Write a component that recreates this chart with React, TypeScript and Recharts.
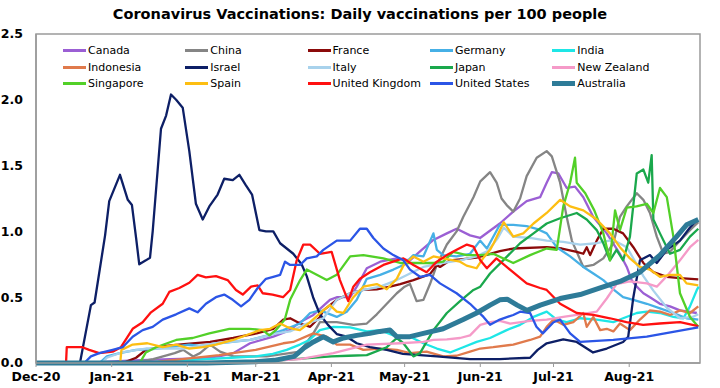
import React from 'react';
import { LineChart, Line, XAxis, YAxis, ReferenceArea, Legend } from 'recharts';

type Pt = [number, number];

// x = days since 1 Dec 2020, y = daily vaccinations per 100 people
const tickDays = [0, 31, 62, 90, 121, 151, 182, 212, 243];
const tickLabels = ['Dec-20', 'Jan-21', 'Feb-21', 'Mar-21', 'Apr-21', 'May-21', 'Jun-21', 'Jul-21', 'Aug-21'];
const yTicks = [0, 0.5, 1, 1.5, 2, 2.5];

const canadaData: Pt[] = [[0,0],[20,0],[40,0.02],[55,0.03],[67,0.035],[75,0.05],[80.8,0.075],[87.7,0.15],[97.2,0.2],[104,0.25],[108.1,0.31],[113.6,0.365],[120.4,0.48],[123.2,0.5],[128.7,0.5],[131.4,0.58],[135.5,0.72],[141,0.77],[147.8,0.795],[153.2,0.78],[158,0.86],[162.8,0.935],[168.3,0.985],[172.3,1.02],[177.8,0.97],[181.9,0.95],[190,1.06],[195.5,1.15],[201,1.23],[206.5,1.26],[209.2,1.37],[211.3,1.45],[214,1.44],[217.4,1.33],[220.8,1.34],[224.2,1.26],[228.3,1.11],[233.8,0.985],[239.2,0.83],[242,0.73],[244,0.63],[246.1,0.58],[248.8,0.53],[251.5,0.5],[255.6,0.45],[259.7,0.43],[263.8,0.4],[270.7,0.38]];
const chinaData: Pt[] = [[0,0],[40,0],[48,0.03],[56.8,0.075],[60.3,0.1],[64.4,0.05],[67.2,0.075],[71.3,0.14],[75.4,0.086],[80.8,0.05],[94.5,0.05],[108.1,0.086],[113.6,0.225],[116.3,0.31],[123.2,0.31],[130,0.29],[135.5,0.3],[139.6,0.37],[143.7,0.45],[147.8,0.53],[151,0.58],[153.2,0.6],[155.9,0.47],[158.7,0.48],[161.4,0.6],[164.2,0.745],[168.3,0.9],[172.3,1.0],[175,1.11],[179.2,1.26],[182,1.38],[186,1.45],[188.7,1.37],[190.7,1.25],[192.8,1.2],[195.5,1.15],[198.3,1.25],[201,1.42],[205.1,1.56],[209.2,1.61],[211.3,1.57],[214.7,1.37],[217.4,1.11],[219.5,0.93],[224.2,0.73],[228.3,0.745],[232.4,0.795],[236.5,0.91],[239.2,1.11],[242,1.19],[246.1,1.29],[248.8,1.24],[251.5,1.14],[254.3,0.96],[257,0.83],[259.7,0.845],[263.8,0.93],[267.9,1.01],[271.3,1.07]];
const franceData: Pt[] = [[0,0],[35,0],[37,0.01],[41,0.04],[45,0.1],[53.2,0.13],[61.7,0.145],[71.3,0.16],[80.8,0.19],[90.4,0.225],[97.2,0.26],[101.3,0.33],[104.1,0.34],[108.2,0.3],[112.3,0.275],[116.3,0.35],[117.7,0.4],[123.2,0.48],[128.7,0.53],[134.1,0.555],[139.6,0.56],[145,0.58],[149.2,0.6],[154.6,0.63],[161.4,0.675],[164.2,0.745],[165.5,0.73],[169.6,0.78],[175,0.79],[180.5,0.8],[186,0.83],[190,0.85],[195.5,0.87],[209.2,0.88],[215.4,0.87],[221.5,0.845],[224.2,0.83],[225.6,0.88],[227,0.82],[229.7,0.93],[232.4,1.02],[236.5,1.02],[240.5,0.985],[244.7,0.88],[248.8,0.76],[252.9,0.69],[258.4,0.655],[263.8,0.645],[271.3,0.635]];
const germanyData: Pt[] = [[0,0],[26,0],[29,0.05],[34.3,0.075],[41,0.1],[47.8,0.105],[54.6,0.12],[62.8,0.14],[67.2,0.13],[75,0.15],[87.7,0.175],[95,0.21],[101.3,0.25],[108.1,0.3],[112.3,0.38],[116.3,0.4],[123.2,0.35],[127.3,0.39],[131.4,0.48],[135.5,0.64],[141,0.67],[146.4,0.71],[150.5,0.745],[154.6,0.82],[158.7,0.81],[162.8,0.985],[164.2,0.86],[166.8,0.82],[172.3,0.81],[177.8,0.83],[181.9,0.93],[184.7,0.87],[190,1.05],[195.5,1.05],[201,1.04],[205.1,1.02],[209.2,0.985],[213.3,0.88],[218.8,0.81],[224.2,0.73],[228.3,0.68],[232.4,0.63],[236.5,0.56],[240.5,0.5],[244.7,0.48],[250.2,0.45],[255.6,0.415],[261.1,0.38],[266.5,0.34],[271.3,0.33]];
const indiaData: Pt[] = [[0,0],[45,0],[50,0.01],[60,0.02],[70,0.03],[80,0.04],[90,0.05],[97,0.07],[102.7,0.1],[108.1,0.14],[112,0.175],[116.3,0.25],[121.8,0.275],[128.7,0.27],[135.5,0.24],[141,0.25],[146.4,0.21],[153.2,0.2],[158.7,0.15],[164.2,0.11],[169.6,0.08],[175,0.12],[180.5,0.16],[186,0.19],[192.8,0.25],[198.3,0.29],[203.8,0.35],[209.2,0.39],[213.3,0.33],[217.4,0.31],[222.9,0.34],[229.7,0.33],[236.5,0.31],[240.5,0.34],[246.1,0.38],[250.2,0.39],[255.6,0.38],[261.1,0.35],[265.2,0.34],[267.9,0.43],[270.7,0.555],[271.5,0.58]];
const indonesiaData: Pt[] = [[0,0],[43,0],[50,0.01],[60,0.03],[75,0.06],[90,0.1],[101.3,0.15],[105.4,0.16],[113.6,0.225],[119.1,0.2],[123.2,0.14],[128.7,0.14],[134.1,0.1],[141,0.11],[147.8,0.1],[153.2,0.075],[160,0.086],[166.8,0.05],[172.3,0.055],[177.8,0.086],[182,0.11],[187.3,0.12],[195.5,0.14],[202.4,0.175],[206.5,0.2],[209.2,0.275],[212,0.33],[216,0.29],[220.1,0.31],[224.2,0.38],[225.6,0.275],[228.3,0.35],[231.1,0.25],[233.8,0.26],[236.5,0.24],[239.2,0.3],[243.3,0.25],[247.4,0.33],[251.5,0.4],[255.6,0.39],[259.7,0.365],[263.8,0.4],[267.9,0.38],[271.3,0.43]];
const israelData: Pt[] = [[0,0],[18,0],[22.5,0.44],[24,0.46],[28.3,0.97],[30,1.23],[34.4,1.43],[37.6,1.24],[39.3,1.2],[41,0.95],[42.3,0.75],[45,0.78],[46.7,0.8],[47.8,1.0],[51.2,1.78],[53.3,1.88],[55.3,2.04],[57.4,2.0],[60.1,1.94],[62.8,1.61],[65.5,1.21],[68.3,1.09],[71,1.19],[74.4,1.28],[77.1,1.4],[80.6,1.39],[83.3,1.43],[86,1.35],[88.5,1.28],[91.5,1.01],[94.2,1.0],[97.2,1.0],[100,0.91],[105.4,0.83],[108.8,0.75],[110.9,0.66],[113.5,0.5],[116.3,0.37],[119.6,0.29],[123.2,0.22],[127.3,0.2],[131.4,0.15],[136.8,0.12],[143.7,0.1],[150.3,0.07],[157.3,0.06],[164.2,0.05],[177.8,0.03],[190,0.03],[202.4,0.04],[205.5,0.1],[209.2,0.15],[216,0.18],[221.5,0.16],[228.2,0.08],[233.8,0.11],[240.5,0.16],[242.6,0.2],[244.7,0.5],[247.4,0.78],[251.5,0.82],[254.3,0.76],[258.4,0.86],[263.8,0.93],[267.9,1.03],[271,1.09]];
const italyData: Pt[] = [[0,0],[27,0],[29,0.04],[35,0.08],[45,0.11],[60.3,0.11],[74,0.15],[87.7,0.175],[98.6,0.225],[104.1,0.24],[110.9,0.3],[117.7,0.34],[123.2,0.48],[128.7,0.53],[134.1,0.555],[141,0.58],[147.8,0.63],[153.2,0.68],[158.7,0.73],[166.8,0.76],[173.7,0.78],[180.5,0.81],[185,0.85],[189.2,0.95],[191.6,1.03],[195.5,0.96],[202.4,0.95],[209.2,0.93],[216,0.92],[222.9,0.9],[229.7,0.91],[236.5,0.935],[242,0.88],[246.1,0.75],[248.8,0.66],[252.9,0.55],[258.4,0.42],[263.8,0.34],[268.9,0.35],[271.3,0.37]];
const japanData: Pt[] = [[0,0],[76,0],[80,0.01],[90,0.015],[100,0.02],[110,0.035],[121,0.05],[128,0.055],[135.5,0.06],[143.7,0.12],[147.8,0.19],[150.5,0.15],[154.6,0.05],[157.3,0.075],[162.8,0.25],[168.3,0.38],[173.7,0.47],[179.2,0.555],[182,0.58],[186,0.68],[193,0.81],[198.3,0.91],[203.8,0.985],[209.2,1.06],[214.7,1.1],[221.5,1.14],[225.6,1.09],[229.7,1.01],[232.4,0.91],[235.1,0.78],[237.8,0.86],[240.5,0.78],[243.3,0.96],[246.1,1.44],[248.8,1.47],[250.8,1.37],[252.2,1.58],[252.9,1.09],[255.6,0.985],[259.7,0.83],[263.8,0.86],[267.9,0.96],[271.3,1.02]];
const newZealandData: Pt[] = [[0,0],[80,0],[85,0.01],[100,0.02],[108.1,0.03],[121.8,0.075],[135.5,0.14],[149.2,0.15],[158.7,0.16],[162.8,0.175],[168.3,0.18],[173.7,0.19],[177.8,0.21],[182,0.29],[186,0.31],[190,0.32],[194.2,0.3],[202.4,0.32],[209.2,0.33],[216,0.35],[222.9,0.37],[229.7,0.39],[233.8,0.49],[237.8,0.6],[243.3,0.62],[250.2,0.605],[254.3,0.58],[258.4,0.66],[263.8,0.78],[267.9,0.88],[271.3,0.935]];
const singaporeData: Pt[] = [[0,0],[42.5,0],[45,0.08],[49.2,0.12],[57.4,0.175],[64.2,0.19],[71,0.225],[79.2,0.26],[87.4,0.26],[92.9,0.25],[95.6,0.21],[98.3,0.25],[101.9,0.33],[104.1,0.48],[108.2,0.63],[110.9,0.71],[115,0.67],[119.1,0.63],[123.2,0.67],[128.7,0.81],[134.1,0.82],[142.3,0.795],[149.2,0.76],[157.3,0.76],[162.8,0.76],[166.8,0.77],[170.9,0.845],[176.4,0.82],[182,0.82],[187.3,0.83],[195.5,0.76],[202.4,0.82],[209.2,0.87],[213.3,0.86],[216,1.19],[218.8,1.37],[220.8,1.56],[221.5,1.37],[225,1.29],[228.7,1.16],[232.4,0.985],[235.1,0.78],[237.2,1.16],[239.2,1.01],[242,1.18],[246,1.19],[250.2,1.21],[252.9,1.14],[255.6,1.33],[258.4,1.26],[261.1,0.96],[263.8,0.53],[267.9,0.35],[271.3,0.275]];
const spainData: Pt[] = [[0,0],[34.5,0],[35,0.1],[39.6,0.14],[45.6,0.15],[51.9,0.12],[57.4,0.14],[62.8,0.11],[68.3,0.12],[73.7,0.14],[80.8,0.175],[91.8,0.25],[95.9,0.26],[100,0.3],[102.7,0.275],[105.4,0.26],[108.1,0.25],[111.6,0.3],[114.7,0.35],[117.7,0.4],[120.4,0.44],[123.2,0.39],[125.9,0.38],[130,0.5],[134.1,0.58],[139.6,0.6],[143.7,0.56],[147.8,0.64],[150.5,0.74],[154.6,0.81],[158.7,0.77],[162.8,0.81],[168.3,0.79],[173.7,0.77],[176.4,0.74],[180.5,0.72],[183.3,0.8],[186,0.86],[187.5,0.91],[191.6,1.07],[195.5,0.96],[199.6,0.985],[203.8,1.06],[209.2,1.14],[214.7,1.24],[218.8,1.19],[224.2,1.16],[229.7,1.09],[235.1,0.985],[239.2,0.88],[243.3,0.795],[247.4,0.73],[251.5,0.71],[255.6,0.655],[259.7,0.67],[263.8,0.67],[266.5,0.605],[271.3,0.59]];
const ukData: Pt[] = [[0,0],[12.3,0],[12.6,0.12],[19,0.12],[21.8,0.1],[25.9,0.075],[31.4,0.086],[34.8,0.12],[39.6,0.26],[43.7,0.31],[47.1,0.385],[51.9,0.45],[54.6,0.54],[58.7,0.57],[62.8,0.61],[66.2,0.67],[69.6,0.65],[73.7,0.66],[78.5,0.63],[81.9,0.555],[84.7,0.52],[88.1,0.58],[90.8,0.59],[92.9,0.53],[96.9,0.52],[101.2,0.5],[104.1,0.555],[106.8,0.78],[109.5,0.9],[112.3,0.9],[116.3,0.83],[121.1,0.845],[124.5,0.63],[127.9,0.47],[130,0.58],[132.7,0.64],[136.8,0.69],[142.3,0.745],[147.8,0.78],[150.5,0.795],[154.6,0.745],[160,0.69],[164.2,0.77],[168.3,0.82],[172.3,0.86],[176.5,0.9],[179.2,0.885],[182,0.78],[184.7,0.72],[188.6,0.795],[192.8,0.73],[201,0.605],[206.5,0.57],[209.2,0.555],[214.7,0.45],[221.5,0.38],[228.3,0.365],[235.1,0.34],[241.9,0.31],[248.7,0.29],[255.5,0.3],[263.8,0.31],[271.3,0.28]];
const usData: Pt[] = [[0,0],[19.8,0],[22.5,0.05],[25.9,0.075],[31.4,0.1],[35.5,0.12],[39.6,0.2],[43.7,0.25],[47.8,0.275],[51.9,0.33],[57.4,0.37],[62.8,0.415],[66.2,0.385],[69.6,0.45],[73.7,0.5],[77.1,0.52],[80.6,0.48],[84,0.43],[87.4,0.48],[90.8,0.57],[94.2,0.64],[97.2,0.655],[100,0.67],[102,0.77],[104.1,0.745],[108.2,0.745],[110.9,0.795],[115,0.81],[117.7,0.86],[123.2,0.93],[128.7,0.93],[132.7,1.02],[135.5,1.02],[138.2,0.95],[142.3,0.87],[146.4,0.82],[150.5,0.78],[153.2,0.71],[157.3,0.655],[161.4,0.67],[165.5,0.605],[172.3,0.53],[177.8,0.45],[183.3,0.35],[186,0.29],[190,0.33],[195.5,0.365],[198.3,0.39],[202.4,0.38],[205,0.275],[207.6,0.225],[212,0.31],[214.7,0.33],[218.8,0.225],[222.9,0.16],[236.5,0.175],[250.2,0.2],[271.3,0.27]];
const australiaData: Pt[] = [[0,0],[70,0],[90,0.01],[97.6,0.02],[105.8,0.05],[109.5,0.11],[113.6,0.16],[117.7,0.2],[121.8,0.16],[125.9,0.19],[131.4,0.21],[136.8,0.225],[140.9,0.24],[145,0.25],[147.8,0.2],[153.2,0.2],[158.7,0.225],[166.8,0.26],[175,0.33],[180.5,0.38],[186,0.44],[190,0.48],[193,0.485],[197.1,0.44],[201.2,0.4],[206.6,0.44],[214.7,0.49],[222.9,0.52],[231.1,0.57],[239.2,0.62],[247.4,0.69],[255.6,0.82],[262.4,0.96],[266.5,1.05],[271.3,1.09]];

const seriesNames = ['Canada', 'China', 'France', 'Germany', 'India', 'Indonesia', 'Israel', 'Italy', 'Japan', 'New Zealand', 'Singapore', 'Spain', 'United Kingdom', 'United States', 'Australia'];
const seriesColors = ['#9b5fd4', '#858585', '#8b0a0a', '#46b0e6', '#1ee6e6', '#e07a4c', '#0d1f66', '#a8d2ec', '#1aa84c', '#f59ac8', '#52d028', '#fdbe12', '#ff1010', '#2b55e6', '#2e7b98'];
const seriesValues = [canadaData, chinaData, franceData, germanyData, indiaData, indonesiaData, israelData, italyData, japanData, newZealandData, singaporeData, spainData, ukData, usData, australiaData];

const series = seriesNames.map((name, i) => ({
  name,
  color: seriesColors[i],
  width: name === 'Australia' ? 5 : 2.3,
  data: seriesValues[i].map(([day, v]) => ({ day, v })),
}));

const FONT = 'DejaVu Sans, Arial, sans-serif';

const renderLegend = () => (
  <div style={{ display: 'grid', gridTemplateColumns: 'repeat(5, 122.3px)', gridAutoRows: '16.7px', fontFamily: FONT, fontSize: 11, color: '#000', textAlign: 'left' }}>
    {series.map((s) => (
      <div key={s.name} style={{ display: 'flex', alignItems: 'center', whiteSpace: 'nowrap' }}>
        <span style={{ display: 'inline-block', width: 23, height: s.name === 'Australia' ? 4.5 : 3, background: s.color, marginRight: 2 }} />
        <span>{s.name}</span>
      </div>
    ))}
  </div>
);

export default function App() {
  return (
    <div style={{ position: 'absolute', left: 0, top: 0, width: 720, height: 388, background: '#fff' }}>
      <LineChart width={720} height={388} margin={{ top: 34, right: 20, bottom: 0, left: 0 }}>
        <XAxis
          type="number"
          dataKey="day"
          domain={[0, 272]}
          ticks={tickDays}
          interval={0}
          allowDataOverflow
          height={25}
          tickSize={4}
          tickMargin={5}
          tickFormatter={(d: number) => tickLabels[tickDays.indexOf(d)]}
          axisLine={{ stroke: '#9a9a9a', strokeWidth: 1.5 }}
          tickLine={{ stroke: '#9a9a9a' }}
          tick={{ fill: '#000', fontSize: 12.5, fontWeight: 'bold', fontFamily: FONT }}
        />
        <YAxis
          type="number"
          domain={[0, 2.5]}
          ticks={yTicks}
          interval={0}
          width={36}
          tickLine={false}
          tickMargin={7}
          tickFormatter={(v: number) => v.toFixed(1)}
          axisLine={{ stroke: '#9a9a9a', strokeWidth: 1.5 }}
          tick={{ fill: '#000', fontSize: 12.5, fontWeight: 'bold', fontFamily: FONT }}
        />
        <ReferenceArea x1={0} x2={272} y1={0} y2={2.5} fill="none" stroke="#9a9a9a" strokeWidth={1.5} />
        {series.map((s) => (
          <Line
            key={s.name}
            name={s.name}
            data={s.data}
            dataKey="v"
            type="linear"
            stroke={s.color}
            strokeWidth={s.width}
            dot={false}
            activeDot={false}
            isAnimationActive={false}
            strokeLinejoin="round"
          />
        ))}
        <Legend
          content={renderLegend}
          layout="horizontal"
          verticalAlign="middle"
          align="center"
          wrapperStyle={{ position: 'absolute', top: 42, left: 63, width: 620, height: 52 }}
        />
      </LineChart>
      <div
        style={{
          position: 'absolute',
          top: 5,
          left: 0,
          width: 720,
          textAlign: 'center',
          fontFamily: FONT,
          fontWeight: 'bold',
          fontSize: 14.5,
          lineHeight: '18px',
          color: '#000',
        }}
      >
        Coronavirus Vaccinations: Daily vaccinations per 100 people
      </div>
    </div>
  );
}
